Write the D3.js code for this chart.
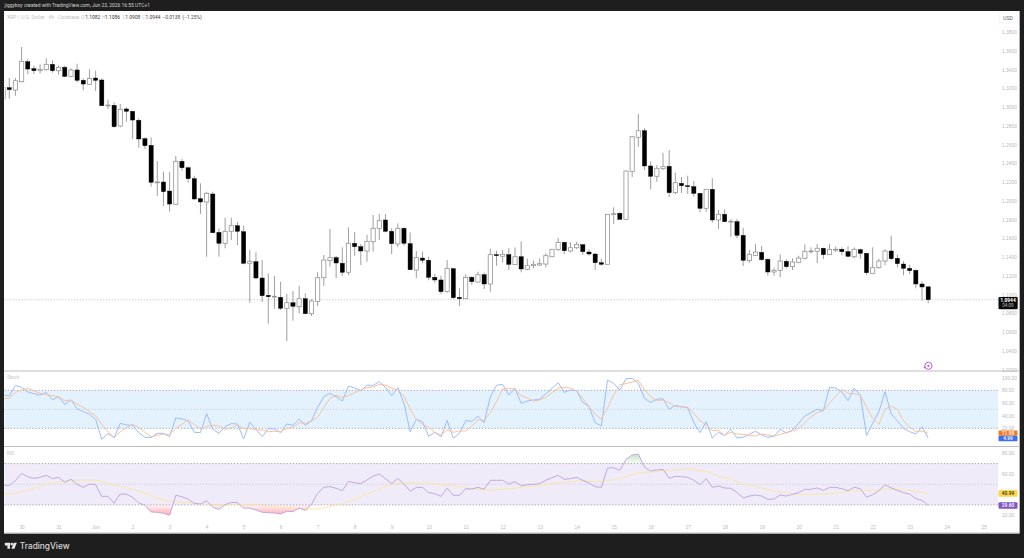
<!DOCTYPE html>
<html>
<head>
<meta charset="utf-8">
<title>XRP / U.S. Dollar 4h</title>
<script src="https://cdn.jsdelivr.net/npm/d3@7/dist/d3.min.js"></script>
<style>
  html, body { margin: 0; padding: 0; background: #1e1e1e; }
  svg { display: block; font-family: Roboto, "Liberation Sans", sans-serif; }
  .tick text { fill: #b9b9b9; font-size: 4.9px; }
  .tick line, .domain { display: none; }
</style>
</head>
<body>
<svg id="chart" width="1024" height="558"></svg>
<script>
// 4h candles, oldest first
const opens = [1.3091,1.3206,1.3181,1.3270,1.3483,1.3409,1.3391,1.3398,1.3455,1.3387,1.3423,1.3327,1.3395,1.3285,1.3242,1.3309,1.3288,1.3014,1.3018,1.2797,1.2979,1.2954,1.2858,1.2662,1.2591,1.2192,1.2200,1.2104,1.1962,1.2421,1.2352,1.2235,1.2022,1.1987,1.2072,1.1663,1.1546,1.1674,1.1734,1.1670,1.1333,1.1350,1.1176,1.0991,1.0973,1.0970,1.0853,1.0912,1.0870,1.0955,1.0795,1.0927,1.1179,1.1361,1.1393,1.1333,1.1237,1.1546,1.1510,1.1464,1.1563,1.1706,1.1795,1.1674,1.1539,1.1706,1.1542,1.1261,1.1389,1.1365,1.1183,1.1155,1.1030,1.1275,1.0970,1.0955,1.1183,1.1133,1.1211,1.1112,1.1425,1.1408,1.1425,1.1318,1.1403,1.1269,1.1307,1.1315,1.1325,1.1403,1.1478,1.1557,1.1464,1.1499,1.1531,1.1453,1.1432,1.1339,1.1322,1.1855,1.1866,1.1802,1.2314,1.2677,1.2747,1.2371,1.2261,1.2342,1.2367,1.2086,1.2186,1.2160,1.2150,1.2079,1.1919,1.2122,1.1795,1.1855,1.1773,1.1777,1.1631,1.1361,1.1418,1.1450,1.1375,1.1240,1.1258,1.1354,1.1297,1.1343,1.1386,1.1460,1.1461,1.1493,1.1425,1.1478,1.1482,1.1457,1.1403,1.1478,1.1439,1.1226,1.1286,1.1357,1.1464,1.1386,1.1325,1.1279,1.1258,1.1112,1.1082];
const highs = [1.3235,1.3309,1.3309,1.3640,1.3512,1.3441,1.3455,1.3519,1.3498,1.3441,1.3441,1.3413,1.3462,1.3306,1.3402,1.3387,1.3306,1.3078,1.3050,1.3032,1.2997,1.2957,1.2879,1.2677,1.2677,1.2424,1.2310,1.2307,1.2477,1.2445,1.2367,1.2267,1.2186,1.2097,1.2097,1.1706,1.1819,1.1819,1.1773,1.1734,1.1475,1.1450,1.1368,1.1226,1.1197,1.1137,1.1005,1.1037,1.1094,1.1013,1.0949,1.1237,1.1421,1.1699,1.1411,1.1503,1.1717,1.1667,1.1539,1.1635,1.1848,1.1859,1.1859,1.1706,1.1759,1.1717,1.1663,1.1464,1.1457,1.1403,1.1219,1.1200,1.1368,1.1286,1.1066,1.1215,1.1197,1.1243,1.1232,1.1489,1.1467,1.1475,1.1493,1.1503,1.1567,1.1382,1.1360,1.1386,1.1439,1.1485,1.1603,1.1563,1.1557,1.1563,1.1539,1.1482,1.1439,1.1382,1.1859,1.1930,1.1877,1.2321,1.2691,1.2925,1.2773,1.2421,1.2378,1.2512,1.2541,1.2299,1.2253,1.2267,1.2211,1.2086,1.2125,1.2239,1.1901,1.1909,1.1802,1.1805,1.1713,1.1475,1.1539,1.1517,1.1386,1.1286,1.1429,1.1375,1.1386,1.1414,1.1535,1.1503,1.1539,1.1499,1.1539,1.1510,1.1503,1.1517,1.1503,1.1489,1.1446,1.1503,1.1382,1.1482,1.1627,1.1425,1.1357,1.1318,1.1269,1.1141,1.1086];
const lows = [1.3085,1.3088,1.3120,1.3263,1.3352,1.3352,1.3359,1.3387,1.3366,1.3345,1.3317,1.3317,1.3263,1.3178,1.3235,1.3171,1.3011,1.2979,1.2779,1.2783,1.2843,1.2659,1.2566,1.2552,1.2150,1.2051,1.1944,1.1883,1.1960,1.2320,1.2192,1.2008,1.1859,1.1403,1.1657,1.1403,1.1493,1.1581,1.1528,1.1322,1.0912,1.1162,1.0920,1.0688,1.0848,1.0835,1.0504,1.0720,1.0799,1.0789,1.0771,1.0877,1.1091,1.1297,1.1176,1.1200,1.1208,1.1414,1.1315,1.1350,1.1457,1.1581,1.1663,1.1432,1.1507,1.1520,1.1261,1.1173,1.1333,1.1151,1.1126,1.1005,1.1019,1.0952,1.0877,1.0952,1.1104,1.1126,1.1059,1.1030,1.1307,1.1343,1.1261,1.1315,1.1237,1.1258,1.1279,1.1304,1.1290,1.1401,1.1467,1.1429,1.1450,1.1485,1.1421,1.1414,1.1261,1.1307,1.1318,1.1752,1.1795,1.1795,1.2253,1.2576,1.2328,1.2122,1.2203,1.2328,1.2037,1.2069,1.2083,1.2072,1.2043,1.1877,1.1883,1.1766,1.1699,1.1770,1.1616,1.1599,1.1304,1.1336,1.1411,1.1361,1.1200,1.1200,1.1183,1.1279,1.1261,1.1333,1.1375,1.1439,1.1333,1.1379,1.1422,1.1453,1.1418,1.1400,1.1386,1.1382,1.1211,1.1224,1.1275,1.1311,1.1368,1.1290,1.1205,1.1219,1.1066,1.0934,1.0908];
const closes = [1.3208,1.3185,1.3280,1.3487,1.3405,1.3387,1.3402,1.3455,1.3387,1.3423,1.3327,1.3395,1.3285,1.3245,1.3306,1.3285,1.3014,1.3021,1.2790,1.2975,1.2954,1.2861,1.2659,1.2587,1.2197,1.2200,1.2097,1.1965,1.2421,1.2352,1.2235,1.2019,1.1987,1.2079,1.1659,1.1546,1.1674,1.1734,1.1674,1.1333,1.1354,1.1176,1.0987,1.0976,1.0981,1.0853,1.0912,1.0874,1.0955,1.0795,1.0931,1.1179,1.1368,1.1393,1.1336,1.1237,1.1546,1.1510,1.1464,1.1567,1.1706,1.1787,1.1674,1.1542,1.1706,1.1546,1.1264,1.1393,1.1365,1.1183,1.1155,1.1030,1.1279,1.0966,1.0955,1.1183,1.1137,1.1211,1.1112,1.1425,1.1414,1.1429,1.1322,1.1403,1.1272,1.1307,1.1322,1.1329,1.1414,1.1482,1.1557,1.1467,1.1499,1.1535,1.1457,1.1432,1.1339,1.1322,1.1855,1.1862,1.1802,1.2317,1.2683,1.2747,1.2371,1.2261,1.2346,1.2363,1.2086,1.2192,1.2160,1.2150,1.2079,1.1919,1.2122,1.1795,1.1855,1.1777,1.1781,1.1631,1.1365,1.1429,1.1453,1.1371,1.1240,1.1258,1.1357,1.1297,1.1347,1.1389,1.1461,1.1464,1.1493,1.1425,1.1482,1.1482,1.1457,1.1407,1.1482,1.1439,1.1232,1.1286,1.1357,1.1464,1.1382,1.1329,1.1279,1.1254,1.1112,1.1080,1.0944];

// Stochastic %K and %D
const stochK = [72.6,71.0,87.9,84.7,77.4,74.7,72.6,76.8,65.3,70.0,57.9,64.7,51.0,46.3,42.6,34.2,2.6,11.6,5.3,27.9,25.3,24.7,13.2,5.8,5.3,12.1,12.1,6.8,36.3,34.7,32.1,13.7,13.2,43.2,18.4,12.1,22.6,27.4,26.8,3.2,29.5,18.4,6.8,19.5,18.9,13.2,26.8,24.7,34.7,24.7,32.1,53.2,70.0,75.3,70.0,63.2,86.8,83.7,79.5,87.9,87.9,93.7,84.7,71.6,84.2,59.5,14.7,34.2,30.5,7.4,13.7,6.3,32.6,4.2,12.1,32.1,31.0,38.9,28.9,70.0,87.9,89.5,72.6,83.2,59.5,63.2,64.7,65.8,74.2,83.2,92.1,76.8,80.5,79.5,61.0,54.2,28.9,23.7,96.3,91.0,80.5,98.4,98.9,91.0,67.4,61.0,65.8,66.8,50.0,56.3,54.2,52.6,28.9,13.2,30.5,4.7,13.7,8.4,18.4,4.7,5.8,10.5,15.3,9.5,5.8,7.4,18.4,12.6,17.4,27.9,39.5,44.7,50.0,47.9,84.7,83.7,77.4,63.7,83.2,72.6,8.4,27.9,46.3,77.9,42.6,31.6,20.0,14.7,11.0,22.6,4.99];
const stochD = [66.8,67.4,76.8,80.5,83.2,78.9,75.3,73.2,71.6,70.0,63.7,64.7,57.9,53.2,46.3,39.5,26.3,14.7,5.3,14.7,21.0,26.3,21.6,13.7,6.8,8.9,10.5,11.0,20.0,26.3,33.2,26.3,18.9,23.2,24.7,23.7,18.4,20.5,25.3,19.5,20.0,17.4,17.4,14.7,15.3,14.7,19.5,21.6,28.9,27.9,31.0,37.4,53.2,67.4,72.1,68.9,71.6,76.3,80.5,84.2,85.3,89.5,88.4,83.7,80.5,71.0,50.0,34.2,26.3,21.6,13.7,9.5,17.4,13.7,15.8,15.8,23.7,33.2,32.1,44.7,62.1,82.1,83.2,82.1,71.6,67.9,63.2,64.7,68.9,76.3,83.7,84.7,83.7,78.4,67.4,54.2,42.1,34.7,51.6,72.6,88.9,90.5,93.2,95.8,80.5,70.0,64.2,64.7,60.5,54.7,53.7,53.2,43.7,32.1,25.3,16.3,16.8,8.9,13.7,11.0,10.5,8.4,7.9,11.0,9.5,7.4,10.5,13.2,15.8,19.5,28.9,38.4,44.7,47.9,59.5,71.0,81.6,75.3,74.7,72.6,53.2,35.8,26.3,50.0,55.3,50.0,31.6,21.6,14.7,15.8,11.98];

// RSI and its moving average
const rsiLine = [48.9,48.9,53.5,60.5,57.3,55.7,56.7,58.6,55.4,56.7,51.9,54.8,49.9,47.0,50.2,49.6,38.3,38.3,31.6,40.6,40.3,37.4,31.9,29.6,23.2,22.9,21.9,20.0,39.3,38.0,35.4,31.6,30.9,34.1,27.7,25.8,30.3,32.5,32.2,27.0,27.0,25.1,22.9,22.5,22.2,21.3,23.8,23.5,27.0,24.8,30.6,41.2,47.0,47.7,46.1,43.8,52.8,51.5,50.6,54.1,58.0,59.9,55.4,50.6,55.7,50.2,43.2,47.0,47.0,41.9,40.9,38.3,46.1,39.3,39.3,45.7,45.4,47.0,45.1,53.8,53.8,53.8,50.2,52.5,48.6,49.6,49.9,50.6,53.8,56.4,58.6,54.8,55.4,56.7,53.8,51.2,47.7,47.0,65.7,66.0,63.4,74.1,78.3,79.2,66.3,62.8,63.8,64.4,55.7,57.7,57.3,56.7,53.8,49.6,55.4,47.0,48.3,46.4,46.1,42.2,36.7,38.6,39.6,38.6,35.4,35.7,39.6,38.6,40.3,41.9,45.1,45.1,46.4,44.1,47.0,47.0,45.7,43.8,47.0,45.7,37.4,39.9,43.8,49.6,46.4,44.1,41.9,40.6,36.1,34.5,29.60];
const rsiMa = [39.9,40.6,41.2,42.5,44.4,46.4,48.3,50.2,51.5,52.2,52.8,53.8,53.8,53.8,53.8,53.8,52.5,50.9,49.3,48.0,46.7,45.1,43.2,41.2,39.0,36.7,34.8,33.8,32.9,32.5,32.2,31.6,30.9,30.6,30.0,29.6,30.0,30.3,30.3,30.3,30.0,30.0,29.3,28.7,28.0,27.4,27.0,26.7,26.4,26.1,25.8,26.1,27.0,28.3,30.0,30.9,33.2,35.4,38.0,40.6,42.8,45.4,47.7,49.9,51.2,51.5,51.5,51.5,51.5,51.2,50.2,49.6,48.9,48.3,47.3,46.4,45.7,45.1,44.4,44.1,44.8,45.1,45.7,46.1,47.0,47.7,48.3,48.9,49.6,50.6,51.5,51.9,52.2,53.1,53.1,52.8,52.8,52.8,53.5,54.4,55.7,57.3,59.3,60.9,61.5,61.8,62.5,63.1,63.4,63.8,64.4,65.1,64.4,63.4,62.5,60.2,58.0,56.0,54.8,52.8,50.6,49.3,48.0,46.4,45.1,43.5,42.5,41.5,40.9,40.3,40.3,40.3,40.3,40.6,40.9,41.5,42.2,42.8,43.5,43.8,44.1,44.1,44.1,45.1,45.4,45.1,44.4,44.1,43.2,42.2,40.99];

// Tick labels
const priceTicks = [1.38,1.36,1.34,1.32,1.30,1.28,1.26,1.24,1.22,1.20,1.18,1.16,1.14,1.12,1.10,1.08,1.06,1.04,1.02];
const stochTicks = [100,80,60,40,20];
const rsiTicks = [80,60,20];
const timeLabels = ["30","31","Jun","2","3","4","5","6","7","8","9","10","11","12","13","14","15","16","17","18","19","20","21","22","23","24","25"];
const barsPerLabel = 6;
const firstLabelBar = 3;
const lastPrice = 1.0944;
const priceText = "1.0944";
const countdown = "04:09";
const stochLevels = [80, 50, 20];
const rsiLevels = [70, 50, 30];

const svg = d3.select("#chart");
const plotLeft = 4.5, plotRight = 998, frameRight = 1019.5;
const pane = {main: [11.5, 370.5], stoch: [371.5, 446], rsi: [447, 533]};

const x = d3.scaleLinear().domain([0, 150]).range([3.1, 928.2]);
// Two reference points per pane define the linear mapping.
const yPrice = d3.scaleLinear().domain([1.38, 1.02]).range([32, 369.5]);
const yStoch = d3.scaleLinear().domain([100, 20]).range([377.7, 428.3]);
const yRsi = d3.scaleLinear().domain([80, 20]).range([453.2, 515.3]);

const defs = svg.append("defs");
Object.entries(pane).forEach(([name, [top, bottom]]) => {
  defs.append("clipPath").attr("id", "clip-" + name).append("rect")
    .attr("x", plotLeft).attr("y", top)
    .attr("width", plotRight - plotLeft).attr("height", bottom - top);
});

// Pale fills under the RSI excursions beyond the 70 and 30 levels
const gradUp = defs.append("linearGradient").attr("id", "rsiUp")
  .attr("gradientUnits", "userSpaceOnUse").attr("x1", 0).attr("x2", 0)
  .attr("y1", yRsi(80)).attr("y2", yRsi(70));
gradUp.append("stop").attr("offset", 0).attr("stop-color", "#a5d6a7").attr("stop-opacity", 0.7);
gradUp.append("stop").attr("offset", 1).attr("stop-color", "#a5d6a7").attr("stop-opacity", 0.08);
const gradDown = defs.append("linearGradient").attr("id", "rsiDown")
  .attr("gradientUnits", "userSpaceOnUse").attr("x1", 0).attr("x2", 0)
  .attr("y1", yRsi(30)).attr("y2", yRsi(20));
gradDown.append("stop").attr("offset", 0).attr("stop-color", "#ff9aa6").attr("stop-opacity", 0.1);
gradDown.append("stop").attr("offset", 1).attr("stop-color", "#ff8e9a").attr("stop-opacity", 0.8);
defs.append("clipPath").attr("id", "clip-above").append("rect")
  .attr("x", plotLeft).attr("width", plotRight - plotLeft)
  .attr("y", pane.rsi[0]).attr("height", yRsi(70) - pane.rsi[0]);
defs.append("clipPath").attr("id", "clip-below").append("rect")
  .attr("x", plotLeft).attr("width", plotRight - plotLeft)
  .attr("y", yRsi(30)).attr("height", pane.rsi[1] - yRsi(30));

// Dark surround with the white chart card
svg.append("rect").attr("width", 1024).attr("height", 558).attr("fill", "#1e1e1e");
svg.append("rect").attr("x", 4).attr("y", 11).attr("width", frameRight - 4).attr("height", 522.5).attr("fill", "#fff");

// Oscillator backgrounds
svg.append("rect").attr("x", plotLeft).attr("width", plotRight - plotLeft)
  .attr("y", yStoch(80)).attr("height", yStoch(20) - yStoch(80)).attr("fill", "#e4f2fd");
svg.append("rect").attr("x", plotLeft).attr("width", plotRight - plotLeft)
  .attr("y", yRsi(70)).attr("height", yRsi(30) - yRsi(70)).attr("fill", "#f0ebf8");

// Horizontal oscillator levels
function levels(list, scale) {
  svg.append("g").selectAll("line").data(list).join("line")
    .attr("x1", plotLeft).attr("x2", plotRight)
    .attr("y1", d => scale(d)).attr("y2", d => scale(d))
    .attr("stroke", (d, i) => i === 1 ? "#cfcfd8" : "#a9a9b2")
    .attr("stroke-width", 1)
    .attr("stroke-dasharray", "1.3 1.8");
}
levels(stochLevels, yStoch);
levels(rsiLevels, yRsi);

// Last price guide
svg.append("line").attr("x1", plotLeft).attr("x2", plotRight)
  .attr("y1", yPrice(lastPrice)).attr("y2", yPrice(lastPrice))
  .attr("stroke", "#c8c8c8").attr("stroke-width", 1).attr("stroke-dasharray", "1.2 1.7");

// Candles
const candles = d3.range(opens.length).map(i => ({
  i, o: opens[i], h: highs[i], l: lows[i], c: closes[i]
}));
const candleG = svg.append("g").attr("clip-path", "url(#clip-main)");
const bars = candleG.selectAll("g").data(candles).join("g");
bars.append("line")
  .attr("x1", d => x(d.i)).attr("x2", d => x(d.i))
  .attr("y1", d => yPrice(d.h)).attr("y2", d => yPrice(d.l))
  .attr("stroke", "#949494").attr("stroke-width", 0.9);
bars.append("rect")
  .attr("x", d => x(d.i) - 2.1).attr("width", 4.2)
  .attr("y", d => yPrice(Math.max(d.o, d.c)))
  .attr("height", d => Math.max(0.8, Math.abs(yPrice(d.o) - yPrice(d.c))))
  .attr("fill", d => d.c >= d.o ? "#ffffff" : "#000000")
  .attr("stroke", d => d.c >= d.o ? "#959595" : "#000000")
  .attr("stroke-width", d => d.c >= d.o ? 0.8 : 0.4);

// Oscillator lines
const lineOf = scale => d3.line().x((d, i) => x(i)).y(d => scale(d));
function drawLine(values, scale, color, clip) {
  svg.append("path").datum(values)
    .attr("clip-path", "url(#clip-" + clip + ")")
    .attr("d", lineOf(scale)).attr("fill", "none")
    .attr("stroke", color).attr("stroke-width", 0.95);
}
drawLine(stochK, yStoch, "#98b8fb", "stoch");
drawLine(stochD, yStoch, "#f8c09a", "stoch");

const rsiArea = level => d3.area().x((d, i) => x(i)).y0(yRsi(level)).y1(d => yRsi(d));
svg.append("g").attr("clip-path", "url(#clip-above)").append("path").datum(rsiLine)
  .attr("d", rsiArea(70)).attr("fill", "url(#rsiUp)");
svg.append("g").attr("clip-path", "url(#clip-below)").append("path").datum(rsiLine)
  .attr("d", rsiArea(30)).attr("fill", "url(#rsiDown)");
drawLine(rsiMa, yRsi, "#fbe6a4", "rsi");
drawLine(rsiLine, yRsi, "#bda5e0", "rsi");

// Pane separators and card edges
[[4, frameRight, 371], [4, frameRight, 446.5], [4, frameRight, 533]].forEach(([a, b, y]) => {
  svg.append("line").attr("x1", a).attr("x2", b).attr("y1", y).attr("y2", y)
    .attr("stroke", "#bdbdbd").attr("stroke-width", 1.1);
});
svg.append("line").attr("x1", frameRight).attr("x2", frameRight).attr("y1", 11).attr("y2", 533)
  .attr("stroke", "#bdbdbd").attr("stroke-width", 0.8);

// Axes
const axisX = 1000;
svg.append("g").attr("transform", `translate(${axisX},0)`)
  .call(d3.axisRight(yPrice).tickValues(priceTicks).tickSize(0).tickPadding(2).tickFormat(d3.format(".4f")));
svg.append("g").attr("transform", `translate(${axisX},0)`)
  .call(d3.axisRight(yStoch).tickValues(stochTicks).tickSize(0).tickPadding(2).tickFormat(d3.format(".2f")));
svg.append("g").attr("transform", `translate(${axisX},0)`)
  .call(d3.axisRight(yRsi).tickValues(rsiTicks).tickSize(0).tickPadding(2).tickFormat(d3.format(".2f")));
const timeBars = timeLabels.map((d, i) => firstLabelBar + i * barsPerLabel);
svg.append("g").attr("transform", "translate(0,526)")
  .call(d3.axisBottom(x).tickValues(timeBars).tickSize(0).tickPadding(0)
    .tickFormat((d, i) => timeLabels[i]));
// The bar scale is a plain linear scale, so ticks past its domain still sit on the same spacing.

// Currency tag
svg.append("rect").attr("x", 999.5).attr("y", 13).attr("width", 18).attr("height", 9.5)
  .attr("rx", 1).attr("fill", "#fff").attr("stroke", "#efefef").attr("stroke-width", 0.6);
svg.append("text").attr("x", 1008).attr("y", 19.8).attr("text-anchor", "middle")
  .attr("font-size", 5.2).attr("fill", "#666").text("USD");

// Value tags on the right
function tag(y0, y1, fill, text, textFill, weight) {
  svg.append("rect").attr("x", 998.5).attr("y", y0).attr("width", 19).attr("height", y1 - y0)
    .attr("rx", 1).attr("fill", fill);
  svg.append("text").attr("x", 1008).attr("y", (y0 + y1) / 2 + 1.75).attr("text-anchor", "middle")
    .attr("font-size", 4.9).attr("font-weight", weight || 500).attr("fill", textFill).text(text);
}
tag(430.4, 435.8, "#f57a1f", stochD[stochD.length - 1].toFixed(2), "#fff");
tag(435.8, 441.2, "#3d6ff2", stochK[stochK.length - 1].toFixed(2), "#fff");
tag(490, 496.7, "#fbd64a", rsiMa[rsiMa.length - 1].toFixed(2), "#333");
tag(502.3, 508.8, "#7e57c2", rsiLine[rsiLine.length - 1].toFixed(2), "#fff");
svg.append("rect").attr("x", 998.5).attr("y", 297).attr("width", 19.2).attr("height", 12.2)
  .attr("rx", 1).attr("fill", "#0a0a0a");
svg.append("text").attr("x", 1008).attr("y", 302).attr("text-anchor", "middle")
  .attr("font-size", 4.9).attr("font-weight", 700).attr("fill", "#fff").text(priceText);
svg.append("text").attr("x", 1008).attr("y", 307.4).attr("text-anchor", "middle")
  .attr("font-size", 4.6).attr("fill", "#bdbdbd").text(countdown);

// Session marker below the last candles
const marker = svg.append("g").attr("transform", "translate(928.4,365.8)")
  .attr("fill", "none").attr("stroke", "#bb5fe0");
marker.append("circle").attr("r", 3.6).attr("stroke-width", 1);
marker.append("circle").attr("r", 1.1).attr("fill", "#bb5fe0").attr("stroke", "none");
marker.append("path").attr("d", "M-5.2,1.6 L-3.2,0.4 L-3.2,2.8 Z").attr("fill", "#bb5fe0").attr("stroke", "none");

// Titles
svg.append("text").attr("x", 4.5).attr("y", 7.4).attr("font-size", 4.95).attr("fill", "#d4d4d4")
  .text("jiggyboy created with TradingView.com, Jun 23, 2026 16:55 UTC+1");

svg.append("text").attr("x", 7).attr("y", 18.9).attr("font-size", 5.1).attr("fill", "#c2c2c2")
  .text("XRP / U.S. Dollar · 4h · Coinbase");

// OHLC readout, one run of text per field
const readout = [
  ["O", "#c2c2c2", 81], ["1.1082", "#333", 85.2],
  ["H", "#c2c2c2", 102], ["1.1086", "#333", 105],
  ["L", "#c2c2c2", 122.5], ["1.0908", "#333", 125.2],
  ["C", "#c2c2c2", 142], ["1.0944", "#333", 145.5],
  ["−0.0138", "#444", 162.5], ["(−1.25%)", "#444", 182.5]
];
svg.append("g").selectAll("text").data(readout).join("text")
  .attr("x", d => d[2]).attr("y", 18.9).attr("font-size", 4.9)
  .attr("fill", d => d[1]).text(d => d[0]);

svg.append("text").attr("x", 7).attr("y", 379).attr("font-size", 4.8).attr("fill", "#c2c2c2").text("Stoch");
svg.append("text").attr("x", 7).attr("y", 454.5).attr("font-size", 4.8).attr("fill", "#c2c2c2").text("RSI");

// Footer brand
const brand = svg.append("g").attr("transform", "translate(4.8,542.8)").attr("fill", "#e6e6e6");
brand.append("path").attr("d", "M0,0 H5.2 V6 H2.6 V2.6 H0 Z");
brand.append("circle").attr("cx", 6.9).attr("cy", 1.3).attr("r", 1.3);
brand.append("path").attr("d", "M8.9,0 H12 L9.6,6 H6.6 Z");
svg.append("text").attr("x", 19.8).attr("y", 549.2).attr("font-size", 8.3).attr("font-weight", 500)
  .attr("font-family", "Inter, Roboto, sans-serif").attr("fill", "#d8d8d8").text("TradingView");
</script>
</body>
</html>
